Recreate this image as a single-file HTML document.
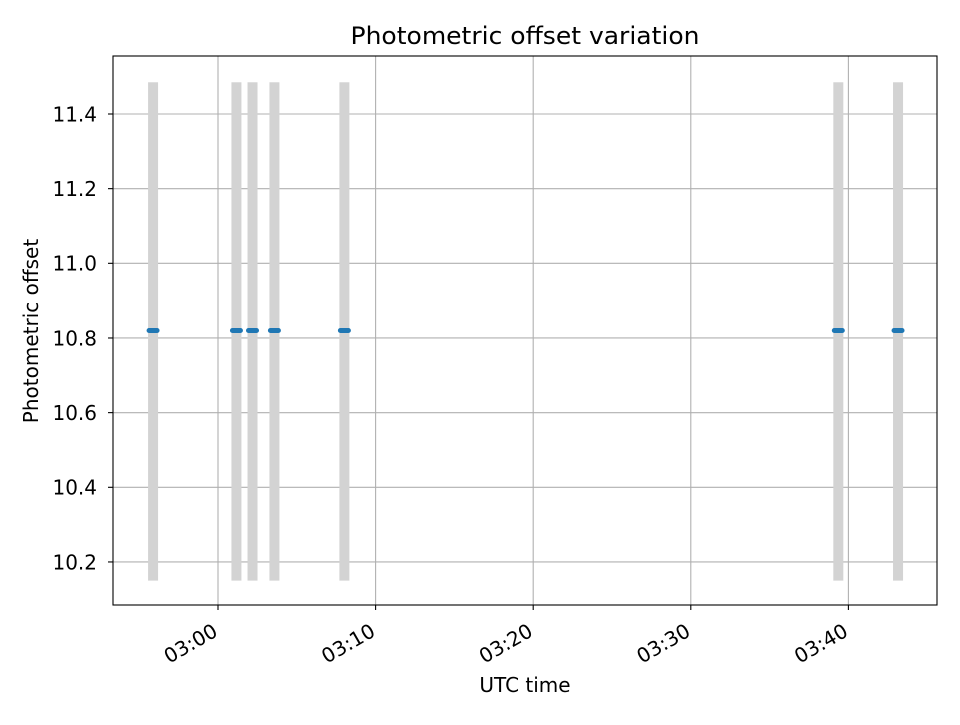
<!DOCTYPE html>
<html><head><meta charset="utf-8"><style>
body{margin:0;background:#fff}
svg text{font-family:"DejaVu Sans","Liberation Sans",sans-serif;fill:#000}
</style></head><body>
<svg id="chart" width="960" height="720" xmlns="http://www.w3.org/2000/svg">
<rect width="960" height="720" fill="#fff"/>
<g id="grid"></g>
<g id="bars"></g>
<g id="points"></g>
<rect x="113" y="56" width="824" height="549" fill="none" stroke="#000" stroke-width="1.1"/>
<g id="xticks"></g>
<g id="yticks"></g>
<text x="525" y="44" text-anchor="middle" font-size="24" textLength="349" lengthAdjust="spacingAndGlyphs">Photometric offset variation</text>
<text x="525" y="692" text-anchor="middle" font-size="20">UTC time</text>
<text transform="translate(38,331) rotate(-90)" text-anchor="middle" font-size="20">Photometric offset</text>
</svg>
<script>
// minutes after 03:00 UTC
const obsTimes=[-4.12,1.17,2.19,3.58,8.02,39.36,43.15];
const offsets=[10.82,10.82,10.82,10.82,10.82,10.82,10.82];
const xTickMinutes=[0,10,20,30,40];
const xTickLabels=["03:00","03:10","03:20","03:30","03:40"];
const yTickValues=[10.2,10.4,10.6,10.8,11.0,11.2,11.4];
const yTickLabels=["10.2","10.4","10.6","10.8","11.0","11.2","11.4"];
const barLow=10.15, barHigh=11.485;

const ns="http://www.w3.org/2000/svg";
const X=m=>218+m*15.76;
const Y=v=>114+(11.4-v)*373.3;
function mk(tag,attrs,parent){const e=document.createElementNS(ns,tag);for(const k in attrs)e.setAttribute(k,attrs[k]);parent.appendChild(e);return e;}
const grid=document.getElementById('grid'),bars=document.getElementById('bars'),pts=document.getElementById('points'),xt=document.getElementById('xticks'),yt=document.getElementById('yticks');
xTickMinutes.forEach((m,i)=>{
  const x=X(m);
  const g=mk('line',{x1:x,x2:x,y1:56,y2:605,stroke:'#b0b0b0','stroke-width':1.1},grid);
  
  
  const t=mk('line',{x1:x,x2:x,y1:605,y2:610,stroke:'#000','stroke-width':1.1},xt);
  
  
  const lx=x+1, ly=635;
  const l=mk('text',{x:lx,y:ly,'font-size':20,'text-anchor':'end',transform:`rotate(-30 ${lx} ${ly})`},xt);
  l.textContent=xTickLabels[i];
  
  
});
yTickValues.forEach((v,i)=>{
  const y=Y(v);
  const g=mk('line',{x1:113,x2:937,y1:y,y2:y,stroke:'#b0b0b0','stroke-width':1.1},grid);
  
  
  const t=mk('line',{x1:108,x2:113,y1:y,y2:y,stroke:'#000','stroke-width':1.1},yt);
  
  
  const l=mk('text',{x:97,y:y+7.3,'font-size':20,'text-anchor':'end'},yt);
  l.textContent=yTickLabels[i];
  
  
});
obsTimes.forEach((m,i)=>{
  const x=X(m);
  const b=mk('rect',{x:x-5,y:Y(barHigh),width:10,height:Y(barLow)-Y(barHigh),fill:'#d3d3d3'},bars);
  
  
  const p=mk('line',{x1:x-4,x2:x+4,y1:Y(offsets[i]),y2:Y(offsets[i]),stroke:'#1f77b4','stroke-width':5,'stroke-linecap':'round'},pts);
  
  
});
</script>
</body></html>
